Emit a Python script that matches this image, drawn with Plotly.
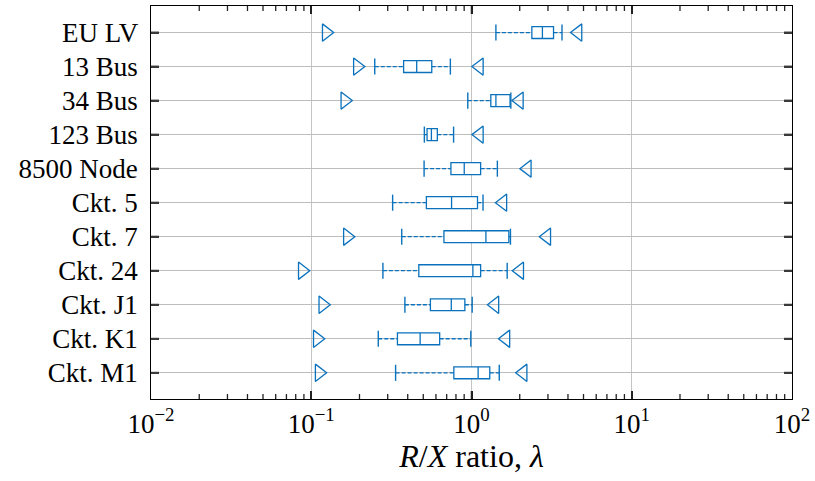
import plotly.graph_objects as go

categories = ["EU LV", "13 Bus", "34 Bus", "123 Bus", "8500 Node", "Ckt. 5",
              "Ckt. 7", "Ckt. 24", "Ckt. J1", "Ckt. K1", "Ckt. M1"]
whisker_lo = [1.42, 0.249, 0.948, 0.508, 0.506, 0.322, 0.367, 0.280, 0.384, 0.262, 0.336]
q1 =         [2.38, 0.377, 1.32, 0.528, 0.744, 0.523, 0.673, 0.469, 0.554, 0.345, 0.776]
median =     [2.77, 0.455, 1.42, 0.562, 0.901, 0.751, 1.23, 1.02, 0.748, 0.478, 1.10]
q3 =         [3.25, 0.565, 1.74, 0.612, 1.14, 1.09, 1.71, 1.14, 0.909, 0.633, 1.30]
whisker_hi = [3.67, 0.738, 1.76, 0.773, 1.45, 1.18, 1.75, 1.67, 1.01, 0.99, 1.49]
min_val =    [0.124, 0.194, 0.162, None, None, None, 0.168, 0.0879, 0.118, 0.109, 0.112]
max_val =    [4.62, 1.12, 1.99, 1.12, 2.23, 1.57, 2.95, 2.00, 1.40, 1.64, 2.10]

xtick_vals = [0.01, 0.1, 1, 10, 100]
xtick_text = ["10<sup>−2</sup>", "10<sup>−1</sup>", "10<sup>0</sup>", "10<sup>1</sup>", "10<sup>2</sup>"]
minor_vals = [m * 10.0 ** e for e in range(-2, 2) for m in range(2, 10)]

C = "#0a72bd"
FONT = "Liberation Serif"
TICK = "#222222"
PLOT_H = 481 - 5 - 82
PLOT_W = 815 - 151 - 21

fig = go.Figure()

# dashed whiskers
wx, wy = [], []
for c, lo, a, b, hi in zip(categories, whisker_lo, q1, q3, whisker_hi):
    wx += [lo, a, None, b, hi, None]
    wy += [c, c, None, c, c, None]
fig.add_trace(go.Scatter(x=wx, y=wy, mode="lines",
                         line=dict(color=C, width=1.3, dash="4px,2px"),
                         showlegend=False, hoverinfo="skip"))

# boxes
fig.add_trace(go.Box(y=categories, q1=q1, median=median, q3=q3,
                     lowerfence=q1, upperfence=q3, orientation="h",
                     width=0.35, whiskerwidth=0, fillcolor="white",
                     line=dict(color=C, width=1.3), boxpoints=False,
                     showlegend=False))

# whisker caps
fig.add_trace(go.Scatter(x=whisker_lo + whisker_hi, y=categories + categories,
                         mode="markers",
                         marker=dict(symbol="line-ns-open", size=11.5, color=C,
                                     line=dict(color=C, width=1.4)),
                         showlegend=False))

# min / max markers
mc = [c for c, v in zip(categories, min_val) if v is not None]
mv = [v for v in min_val if v is not None]
fig.add_trace(go.Scatter(x=mv, y=mc, mode="markers",
                         marker=dict(symbol="triangle-right-open", size=15,
                                     color=C, line=dict(color=C, width=1.3)),
                         showlegend=False))
fig.add_trace(go.Scatter(x=max_val, y=categories, mode="markers",
                         marker=dict(symbol="triangle-left-open", size=15,
                                     color=C, line=dict(color=C, width=1.3)),
                         showlegend=False))

# tick marks drawn as axis decorations (bottom/top for x, left/right for y)
tick_shapes = []
for vals, ln, w in ((minor_vals, 5, 1.3), (xtick_vals[1:-1], 8, 1.5)):
    for v in vals:
        h = ln / PLOT_H
        for y0, y1 in ((0, h), (1 - h, 1)):
            tick_shapes.append(dict(type="line", xref="x", yref="paper",
                                    x0=v, x1=v, y0=y0, y1=y1, layer="above",
                                    line=dict(color=TICK, width=w)))
for i in range(len(categories)):
    wdt = 8 / PLOT_W
    for x0, x1 in ((0, wdt), (1 - wdt, 1)):
        tick_shapes.append(dict(type="line", xref="paper", yref="y",
                                x0=x0, x1=x1, y0=i, y1=i, layer="above",
                                line=dict(color="#3a3a3a", width=2)))

fig.update_layout(
    width=815, height=481,
    margin=dict(l=151, r=21, t=5, b=82),
    plot_bgcolor="white", paper_bgcolor="white",
    font=dict(family=FONT, size=27, color="black"),
    shapes=tick_shapes,
    xaxis=dict(
        type="log", range=[-2, 2],
        tickmode="array", tickvals=xtick_vals, ticktext=xtick_text,
        ticks="inside", ticklen=8, tickwidth=1.5, tickcolor=TICK,
        showline=True, linecolor="black", linewidth=1.2, mirror="ticks",
        showgrid=True, gridcolor="#c4c4c4", gridwidth=1,
        zeroline=False,
        title=dict(text="<i>R</i>/<i>X</i> ratio, <i>λ</i>", standoff=6),
    ),
    yaxis=dict(
        type="category", categoryorder="array", categoryarray=categories,
        range=[10.77, -0.78],
        ticks="inside", ticklen=8, tickwidth=2, tickcolor="#3a3a3a",
        showline=True, linecolor="black", linewidth=1.2, mirror="ticks",
        showgrid=True, gridcolor="#bdbdbd", gridwidth=1,
        ticksuffix=" ",
    ),
)

fig.write_html("out.html")
